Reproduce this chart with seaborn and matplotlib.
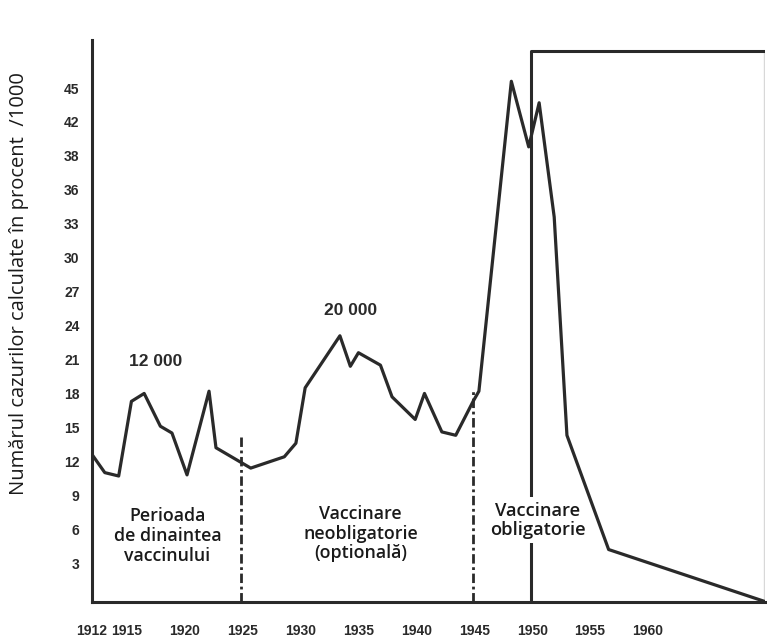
"""
Measles-style incidence chart: cases per 1000 before and after vaccination.
"""

import pandas as pd
import matplotlib.pyplot as plt
import seaborn as sns

# Values
years = [1912.0, 1913.1, 1914.3, 1915.4, 1916.5, 1917.9, 1918.9, 1920.2,
         1922.1, 1922.7, 1925.7, 1928.6, 1929.6, 1930.4, 1933.4, 1934.3,
         1935.0, 1936.9, 1937.9, 1939.9, 1940.7, 1942.2, 1943.4, 1944.9,
         1945.4, 1948.2, 1949.7, 1950.6, 1951.9, 1953.0, 1956.6, 1970.1]
cases = [12.6, 11.0, 10.7, 17.3, 18.0, 15.1, 14.5, 10.8,
         18.2, 13.2, 11.4, 12.4, 13.6, 18.5, 23.1, 20.4,
         21.6, 20.5, 17.7, 15.7, 18.0, 14.6, 14.3, 17.3,
         18.2, 45.6, 39.8, 43.7, 33.6, 14.3, 4.2, -0.4]

ytick_pos = [3, 6, 9, 12, 15, 18, 21, 24, 27, 30, 33, 36, 39, 42, 45]
ytick_labels = ['3', '6', '9', '12', '15', '18', '21', '24', '27', '30',
                '33', '36', '38', '42', '45']
xtick_years = [1912, 1915, 1920, 1925, 1930, 1935, 1940, 1945, 1950, 1955, 1960]

optional_start, optional_top = 1924.85, 14.2
mandatory_dash, mandatory_dash_top = 1944.9, 18.4
mandatory_start, box_top = 1949.9, 48.3

data = pd.DataFrame({'year': years, 'cases': cases})

sns.set_style("white")
plt.rcParams['font.family'] = ['Liberation Sans', 'DejaVu Sans']

ink = '#2a2a2a'
fig = plt.figure(figsize=(7.67, 6.44), dpi=100)
ax = fig.add_axes([0.12, 0.0652, 0.8774, 0.8727])

sns.lineplot(data=data, x='year', y='cases', color=ink, linewidth=2.3,
             ax=ax, zorder=3)

# period separators
dashdot = (0, (3.4, 1.3, 1.0, 1.3))
ax.plot([optional_start, optional_start], [-0.4, optional_top],
        color=ink, linewidth=2.0, linestyle=dashdot, zorder=2)
ax.plot([mandatory_dash, mandatory_dash], [-0.4, mandatory_dash_top],
        color=ink, linewidth=2.0, linestyle=dashdot, zorder=2)
ax.plot([mandatory_start, mandatory_start, 1970.1], [-0.4, box_top, box_top],
        color=ink, linewidth=2.2, zorder=2)
ax.plot([1970.0, 1970.0], [-0.4, box_top], color='#d8d8d8', linewidth=1.0,
        zorder=1)

# annotations
ax.text(1917.5, 20.8, '12 000', ha='center', va='center', fontsize=12.5,
        color=ink, fontweight='bold')
ax.text(1934.3, 25.3, '20 000', ha='center', va='center', fontsize=12.5,
        color=ink, fontweight='bold')

txt_font = ['Open Sans', 'DejaVu Sans']
ax.text(1918.5, 5.4, 'Perioada\nde dinaintea\nvaccinului', ha='center',
        va='center', fontsize=12.8, family=txt_font, fontweight='semibold',
        linespacing=1.12, color='#1a1a1a')
ax.text(1935.2, 5.6, 'Vaccinare\nneobligatorie\n(optională)', ha='center',
        va='center', fontsize=12.8, family=txt_font, fontweight='semibold',
        linespacing=1.12, color='#1a1a1a')
ax.text(1950.5, 6.8, 'Vaccinare\nobligatorie', ha='center', va='center',
        fontsize=13.2, family=txt_font, fontweight='semibold',
        linespacing=1.08, color='#1a1a1a', zorder=2.5,
        bbox=dict(facecolor='white', edgecolor='none', pad=3))

ax.set_xlim(1912, 1970.1)
ax.set_ylim(-0.44, 49.25)
ax.set_yticks(ytick_pos)
ax.set_yticklabels(ytick_labels, fontsize=10, fontweight='bold', color=ink)
ax.set_xticks(xtick_years)
ax.set_xticklabels([str(y) for y in xtick_years], fontsize=10, color=ink,
                   fontweight='bold')
ax.tick_params(axis='y', length=0, pad=9)
ax.tick_params(axis='x', length=0, pad=16)

ax.set_xlabel('')
ax.set_ylabel('Numărul cazurilor calculate în procent  /1000', fontsize=14.5,
              family=txt_font, color='#1a1a1a')
ax.yaxis.set_label_coords(-0.094, 0.566)

for side in ['top', 'right']:
    ax.spines[side].set_visible(False)
for side in ['left', 'bottom']:
    ax.spines[side].set_color(ink)
    ax.spines[side].set_linewidth(2.2)

plt.savefig('out.png', dpi=100)
plt.close()
